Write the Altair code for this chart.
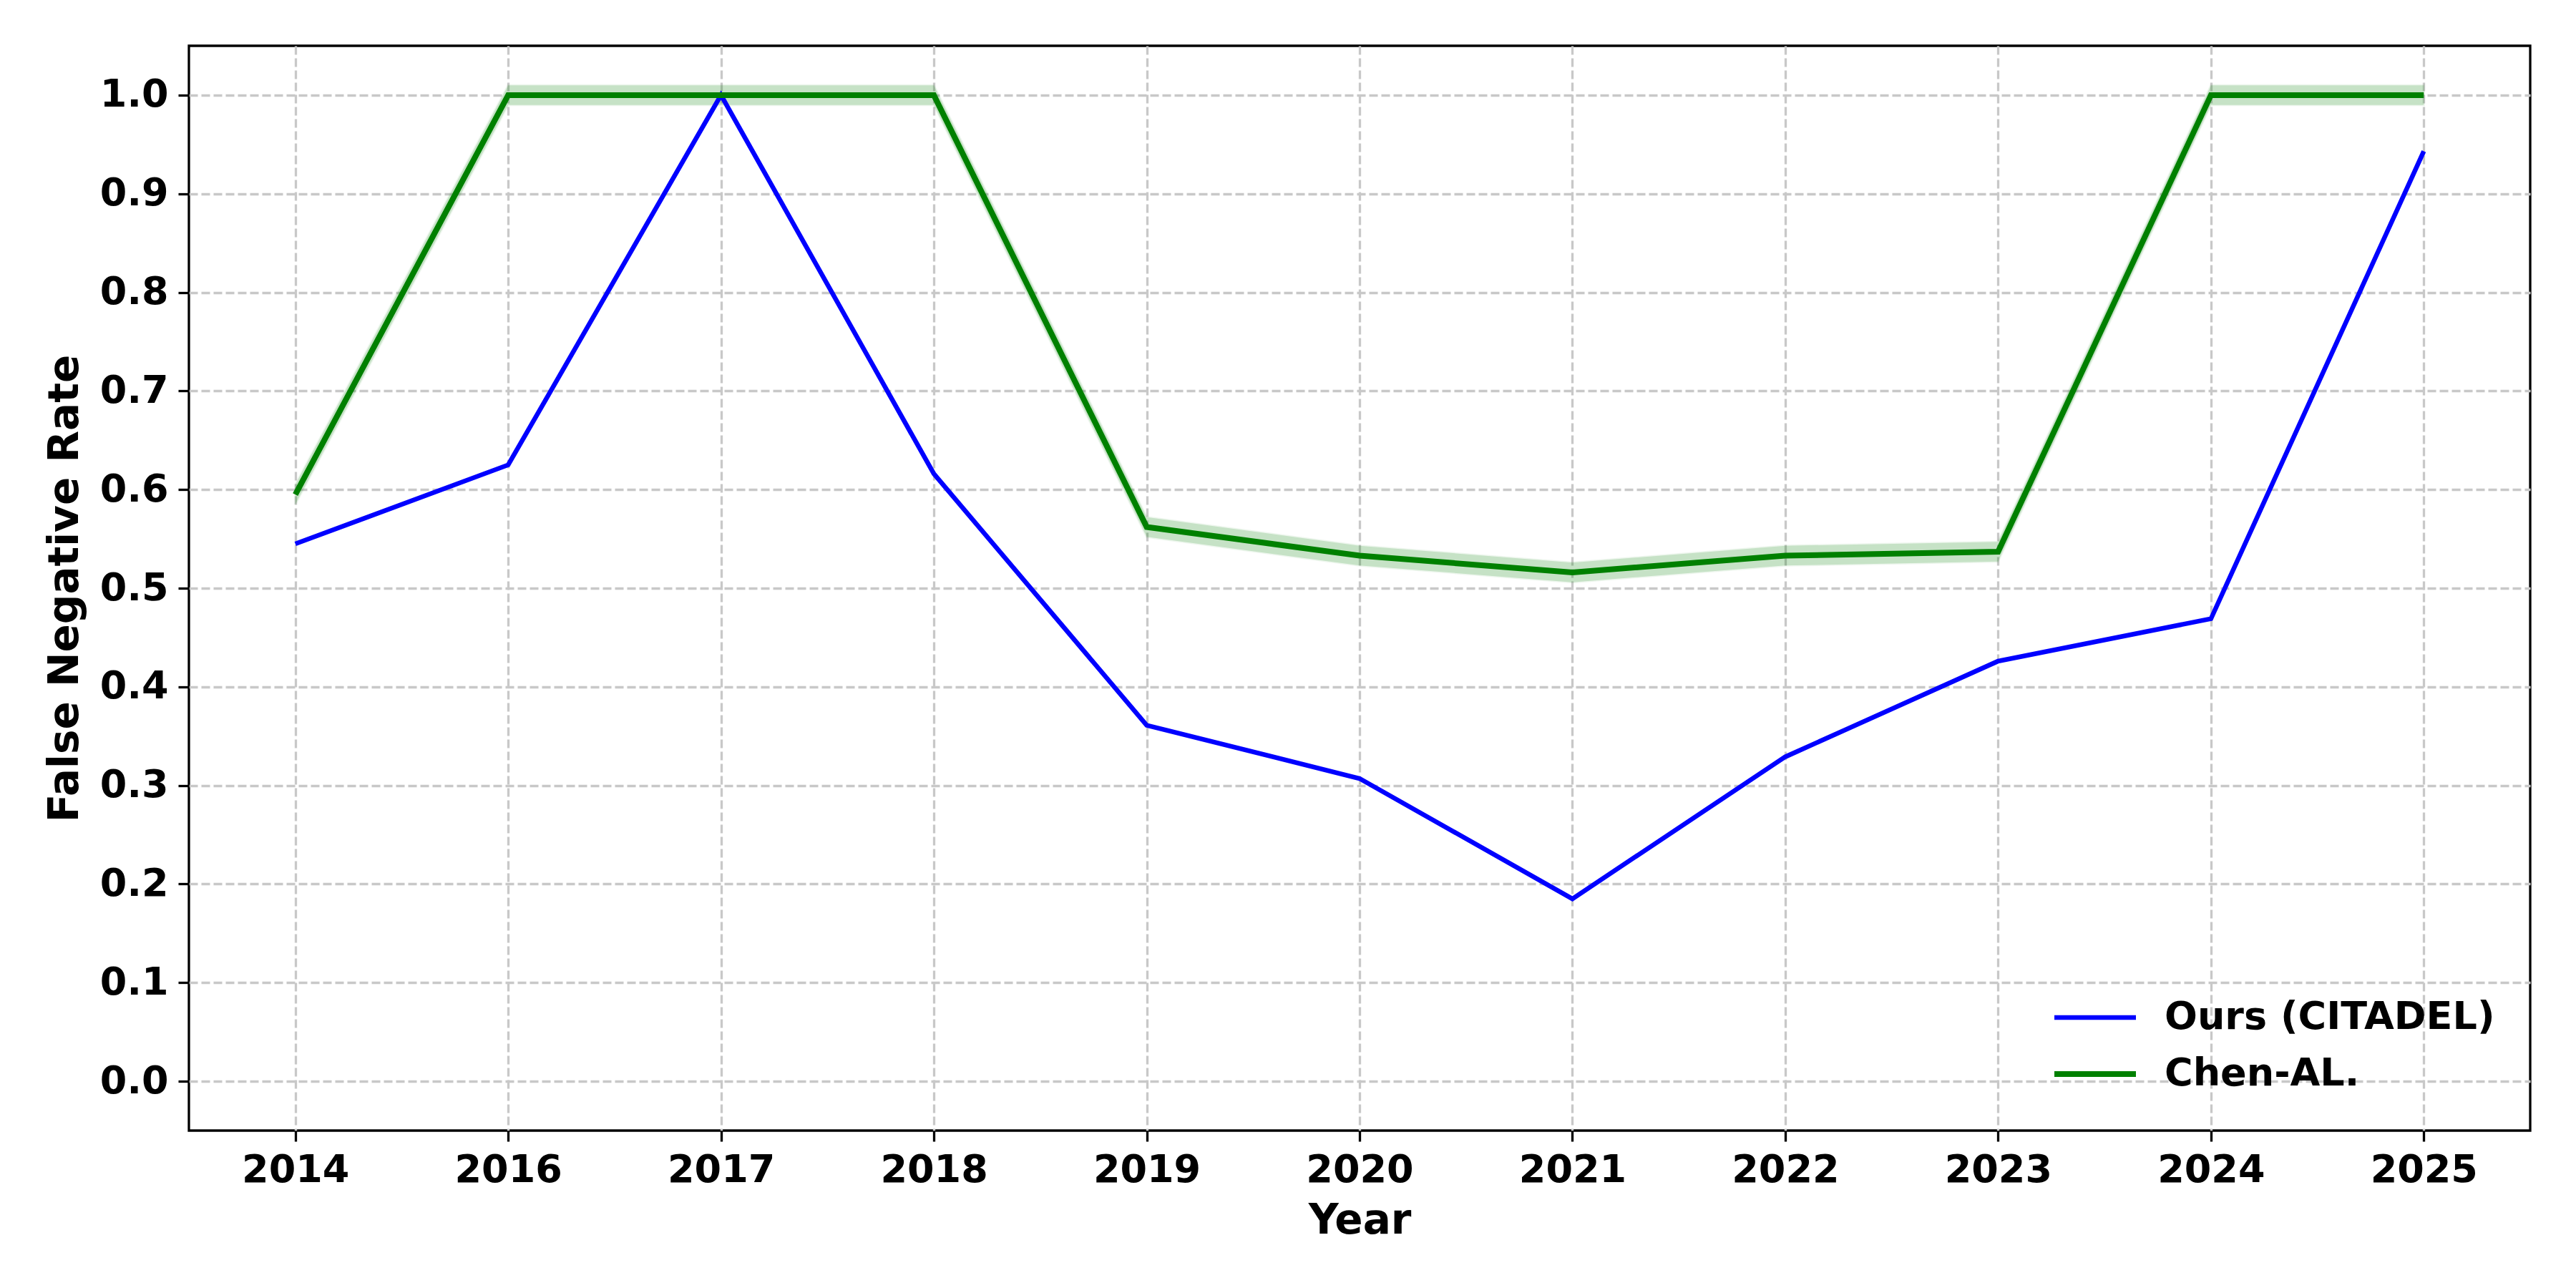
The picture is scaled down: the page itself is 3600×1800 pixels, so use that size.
import altair as alt
import pandas as pd

years = ["2014", "2016", "2017", "2018", "2019", "2020", "2021", "2022", "2023", "2024", "2025"]
ours = [0.545, 0.625, 1.0, 0.616, 0.361, 0.307, 0.185, 0.329, 0.426, 0.469, 0.943]
chen = [0.595, 1.0, 1.0, 1.0, 0.562, 0.533, 0.516, 0.533, 0.537, 1.0, 1.0]
chen_lo = [0.585, 0.99, 0.99, 0.99, 0.552, 0.523, 0.506, 0.523, 0.527, 0.99, 0.99]
chen_hi = [0.605, 1.01, 1.01, 1.01, 0.572, 0.543, 0.526, 0.543, 0.547, 1.01, 1.01]
series_names = ["Ours (CITADEL)", "Chen-AL."]
series_colors = ["#0000ff", "#008000"]
y_ticks = [0.0, 0.1, 0.2, 0.3, 0.4, 0.5, 0.6, 0.7, 0.8, 0.9, 1.0]

lines = pd.DataFrame({
    "year": years * 2,
    "value": ours + chen,
    "series": [series_names[0]] * len(years) + [series_names[1]] * len(years),
})
band = pd.DataFrame({"year": years, "lo": chen_lo, "hi": chen_hi})

FONT = "DejaVu Sans"
GRID = "#c8c8c8"

x_enc = alt.X(
    "year:O", sort=years,
    scale=alt.Scale(type="point", padding=0.5),
    axis=alt.Axis(
        title="Year", labelAngle=0, grid=True, gridDash=[12, 5], gridColor=GRID,
        gridWidth=3.3, domain=False, tickColor="black", tickWidth=3.3, tickSize=15,
        labelFont=FONT, labelFontWeight="bold", labelFontSize=54, labelPadding=13,
        labelColor="black", titleFont=FONT, titleFontWeight="bold", titleFontSize=58,
        titleColor="black", titleBaseline="alphabetic", titleX=1636, titleY=143,
    ),
)
y_scale = alt.Scale(domain=[-0.05, 1.05], nice=False, zero=False)
y_axis = alt.Axis(
    title="False Negative Rate", values=y_ticks, format=".1f", grid=True,
    gridDash=[12, 5], gridColor=GRID, gridWidth=3.3, domain=False,
    tickColor="black", tickWidth=3.3, tickSize=15,
    labelFont=FONT, labelFontWeight="bold", labelFontSize=54, labelPadding=14,
    labelColor="black", titleFont=FONT, titleFontWeight="bold", titleFontSize=58,
    titleColor="black", titleBaseline="alphabetic", titleX=-156, titleY=758,
)

band_layer = alt.Chart(band).mark_area(
    color="#008000", opacity=0.22, stroke="#008000", strokeOpacity=0.3, strokeWidth=3
).encode(
    x=x_enc,
    y=alt.Y("lo:Q", scale=y_scale, axis=y_axis),
    y2="hi:Q",
)

line_layer = alt.Chart(lines).mark_line().encode(
    x=x_enc,
    y=alt.Y("value:Q", scale=y_scale, axis=y_axis),
    color=alt.Color(
        "series:N", sort=series_names,
        scale=alt.Scale(domain=series_names, range=series_colors),
        legend=alt.Legend(
            title=None, orient="none", legendX=2637, legendY=1331,
            symbolType="M-3,0H3", symbolSize=1444, symbolStrokeWidth=6,
            labelFont=FONT, labelFontWeight="bold", labelFontSize=54,
            labelColor="black", labelOffset=70, labelLimit=0,
            rowPadding=25, padding=0,
        ),
    ),
    strokeWidth=alt.StrokeWidth(
        "series:N", scale=alt.Scale(domain=series_names, range=[6.5, 8]), legend=None
    ),
    order=alt.Order("series:N", sort="descending"),
)

chart = alt.layer(band_layer, line_layer).properties(
    width=3272, height=1516,
    padding={"left": 256, "top": 56, "right": 56, "bottom": 200},
    autosize=alt.AutoSizeParams(type="none"),
    background="white",
).configure_view(stroke="black", strokeWidth=3.3)

chart.save("out.html", embed_options={"renderer": "svg", "actions": False})
